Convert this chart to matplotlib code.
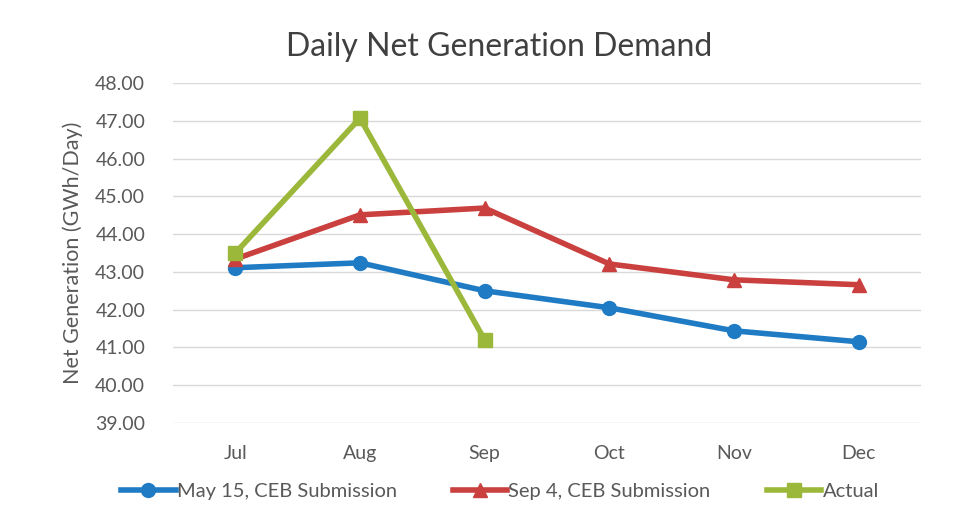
import matplotlib
matplotlib.use("Agg")
import matplotlib.pyplot as plt

months = ["Jul", "Aug", "Sep", "Oct", "Nov", "Dec"]
may15 = [43.11, 43.24, 42.50, 42.05, 41.44, 41.15]
sep4 = [43.34, 44.51, 44.69, 43.21, 42.79, 42.66]
actual = [43.50, 47.07, 41.20]
yticks = [39, 40, 41, 42, 43, 44, 45, 46, 47, 48]

plt.rcParams['font.family'] = ['Lato', 'DejaVu Sans']

fig = plt.figure(figsize=(9.78, 5.30), dpi=100)
ax = fig.add_axes([173/978, 1-423/530, (921-173)/978, (423-83)/530])

x = list(range(len(months)))
ax.plot(x, may15, color='#1F7BC4', lw=4, marker='o', ms=10, label='May 15, CEB Submission', zorder=3)
ax.plot(x, sep4, color='#C9403E', lw=4, marker='^', ms=10, label='Sep 4, CEB Submission', zorder=3)
ax.plot(x[:len(actual)], actual, color='#9BB83A', lw=4, marker='s', ms=10, label='Actual', zorder=4)

ax.set_xlim(-0.5, len(months) - 0.5)
ax.set_ylim(39, 48)
ax.set_yticks(yticks)
ax.set_yticklabels([f"{v:.2f}" for v in yticks])
ax.set_xticks(x)
ax.set_xticklabels(months)
ax.grid(axis='y', color='#D9D9D9', lw=1)
ax.set_axisbelow(True)
for s in ax.spines.values():
    s.set_visible(False)
ax.tick_params(length=0, labelsize=14, colors='#595959')
ax.tick_params(axis='y', pad=20)
ax.tick_params(axis='x', pad=16)
ax.set_ylabel("Net Generation (GWh/Day)", fontsize=15.5, color='#595959', labelpad=9)
fig.text(499/978, 1-47/530, "Daily Net Generation Demand", ha='center', va='center', fontsize=23, color='#404040')

leg = fig.legend(loc='center', bbox_to_anchor=(500/978, 1-491/530), ncol=3, frameon=False,
                 fontsize=14.5, handlelength=2.7, columnspacing=2.8, handletextpad=0.05,
                 labelcolor='#595959')

fig.savefig("out.png", dpi=100)
